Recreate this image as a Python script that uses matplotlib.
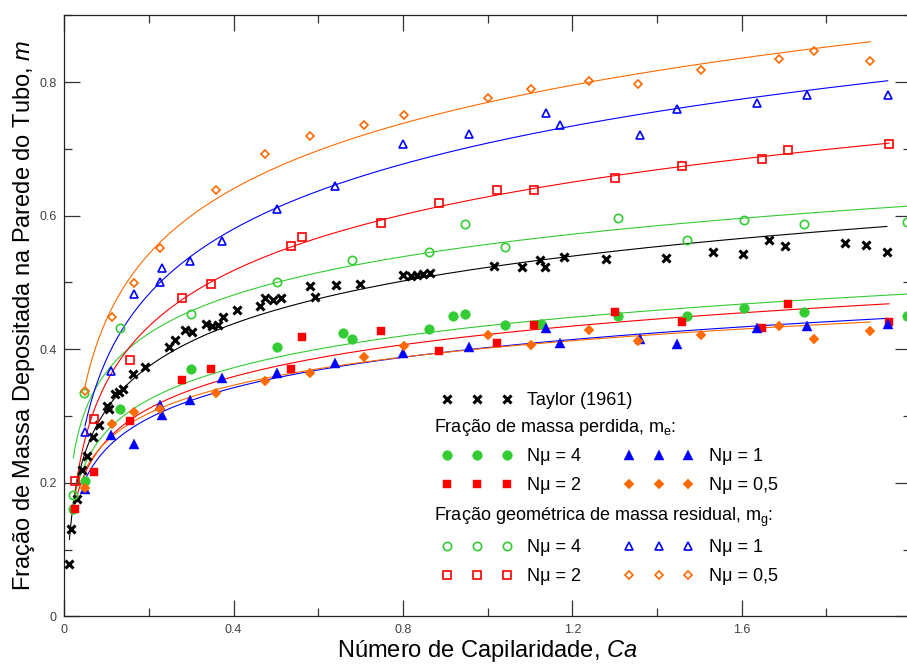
import numpy as np
import matplotlib
matplotlib.use('Agg')
import matplotlib.pyplot as plt
from matplotlib.ticker import MultipleLocator, FuncFormatter

plt.rcParams['font.family'] = ['Liberation Sans', 'DejaVu Sans']
plt.rcParams['mathtext.fontset'] = 'custom'
plt.rcParams['mathtext.rm'] = 'Liberation Sans'
plt.rcParams['mathtext.it'] = 'Liberation Sans:italic'

# Taylor (1961)
taylor_ca = [0.012, 0.015, 0.029, 0.041, 0.053, 0.067, 0.083, 0.100, 0.106, 0.120,
             0.130, 0.139, 0.162, 0.191, 0.247, 0.262, 0.285, 0.301, 0.335, 0.348,
             0.364, 0.376, 0.407, 0.462, 0.475, 0.494, 0.513, 0.580, 0.593, 0.642,
             0.699, 0.801, 0.819, 0.833, 0.847, 0.864, 1.014, 1.081, 1.124, 1.136,
             1.180, 1.280, 1.421, 1.532, 1.603, 1.664, 1.702, 1.844, 1.894, 1.943]
taylor_m = [0.079, 0.130, 0.176, 0.219, 0.240, 0.269, 0.286, 0.315, 0.311, 0.333,
            0.336, 0.341, 0.363, 0.373, 0.404, 0.414, 0.429, 0.425, 0.438, 0.435,
            0.436, 0.448, 0.458, 0.465, 0.477, 0.474, 0.476, 0.495, 0.478, 0.496,
            0.497, 0.511, 0.509, 0.511, 0.512, 0.514, 0.525, 0.523, 0.534, 0.523,
            0.538, 0.535, 0.537, 0.545, 0.542, 0.563, 0.555, 0.559, 0.556, 0.545]

# N_mu = 4
ca_n4_e = [0.021, 0.049, 0.132, 0.299, 0.502, 0.659, 0.680, 0.862, 0.917, 0.947,
           1.041, 1.125, 1.307, 1.471, 1.606, 1.748, 1.990]
me_n4 = [0.160, 0.202, 0.310, 0.370, 0.404, 0.424, 0.415, 0.430, 0.450, 0.452,
         0.436, 0.437, 0.450, 0.449, 0.461, 0.456, 0.450]
ca_n4_g = [0.021, 0.047, 0.132, 0.299, 0.503, 0.680, 0.862, 0.947, 1.041, 1.307,
           1.471, 1.606, 1.748, 1.990]
mg_n4 = [0.182, 0.335, 0.431, 0.453, 0.501, 0.533, 0.545, 0.587, 0.553, 0.596,
         0.564, 0.594, 0.587, 0.591]

# N_mu = 2
ca_n2 = [0.025, 0.070, 0.155, 0.278, 0.347, 0.536, 0.561, 0.748, 0.884, 1.022,
         1.110, 1.300, 1.459, 1.648, 1.709, 1.948]
me_n2 = [0.160, 0.216, 0.292, 0.354, 0.370, 0.370, 0.418, 0.427, 0.398, 0.410,
         0.436, 0.456, 0.440, 0.431, 0.467, 0.440]
mg_n2 = [0.202, 0.295, 0.384, 0.476, 0.498, 0.554, 0.568, 0.589, 0.619, 0.639,
         0.638, 0.657, 0.674, 0.685, 0.698, 0.708]

# N_mu = 1
ca_n1 = [0.049, 0.110, 0.164, 0.227, 0.231, 0.297, 0.372, 0.503, 0.640, 0.799,
         0.957, 1.137, 1.171, 1.359, 1.447, 1.637, 1.754, 1.945]
me_n1 = [0.190, 0.271, 0.258, 0.317, 0.302, 0.324, 0.357, 0.365, 0.380, 0.395,
         0.404, 0.431, 0.410, 0.415, 0.408, 0.431, 0.434, 0.437]
mg_n1 = [0.276, 0.368, 0.483, 0.500, 0.522, 0.532, 0.562, 0.610, 0.644, 0.707,
         0.722, 0.753, 0.736, 0.720, 0.760, 0.769, 0.781, 0.780]

# N_mu = 0,5
ca_n05 = [0.049, 0.112, 0.165, 0.225, 0.358, 0.474, 0.580, 0.709, 0.803, 1.001,
          1.103, 1.240, 1.355, 1.503, 1.689, 1.771, 1.904]
me_n05 = [0.192, 0.288, 0.306, 0.310, 0.334, 0.352, 0.364, 0.388, 0.405, 0.421,
          0.407, 0.428, 0.413, 0.421, 0.435, 0.415, 0.427]
mg_n05 = [0.338, 0.448, 0.499, 0.551, 0.639, 0.693, 0.719, 0.735, 0.751, 0.776,
          0.790, 0.802, 0.797, 0.818, 0.834, 0.847, 0.832]

GREEN = '#33CC33'
RED = '#FF0000'
BLUE = '#0000FF'
ORANGE = '#FF6A00'


def log_fit(x, y):
    # ajuste logaritmico m = a + b ln(Ca) no intervalo dos dados
    x = np.asarray(x, dtype=float)
    y = np.asarray(y, dtype=float)
    b, a = np.polyfit(np.log(x), y, 1)
    xs = np.linspace(x.min(), x.max(), 400)
    return xs, a + b * np.log(xs)


def draw_series(ax, x, y, color, marker, ms, filled):
    xs, ys = log_fit(x, y)
    ax.plot(xs, ys, color=color, lw=0.8, zorder=2)
    if filled:
        h, = ax.plot(x, y, ls='none', marker=marker, ms=ms, color=color,
                     mec=color, mew=0.3, zorder=3)
    else:
        h, = ax.plot(x, y, ls='none', marker=marker, ms=ms, mfc='none',
                     mec=color, mew=1.2, zorder=3)
    return h


fig = plt.figure(figsize=(9.07, 6.64), dpi=100)
ax = fig.add_axes([64.3 / 907, 47.7 / 664, 846.7 / 907, 601 / 664])

h_taylor = draw_series(ax, taylor_ca, taylor_m, 'black', 'x', 5.8, True)
h_taylor.set_markeredgewidth(2.2)

h_e4 = draw_series(ax, ca_n4_e, me_n4, GREEN, 'o', 7.0, True)
h_e2 = draw_series(ax, ca_n2, me_n2, RED, 's', 6.4, True)
h_e1 = draw_series(ax, ca_n1, me_n1, BLUE, '^', 6.8, True)
h_e05 = draw_series(ax, ca_n05, me_n05, ORANGE, 'D', 4.6, True)

h_g4 = draw_series(ax, ca_n4_g, mg_n4, GREEN, 'o', 6.0, False)
h_g2 = draw_series(ax, ca_n2, mg_n2, RED, 's', 5.5, False)
h_g1 = draw_series(ax, ca_n1, mg_n1, BLUE, '^', 5.8, False)
h_g05 = draw_series(ax, ca_n05, mg_n05, ORANGE, 'D', 3.9, False)

ax.set_xlim(0, 2.0)
ax.set_ylim(0, 0.9)
ax.xaxis.set_major_locator(MultipleLocator(0.4))
ax.xaxis.set_minor_locator(MultipleLocator(0.2))
ax.yaxis.set_major_locator(MultipleLocator(0.2))
ax.yaxis.set_minor_locator(MultipleLocator(0.1))
ax.xaxis.set_major_formatter(FuncFormatter(lambda v, pos: '%g' % round(v, 3) if v < 1.9 else ''))
ax.yaxis.set_major_formatter(FuncFormatter(lambda v, pos: '%g' % round(v, 3)))
ax.tick_params(which='both', direction='in', top=True, right=True,
               labelsize=9, labelcolor='#404040', pad=5.5, color='#333333', width=0.9)
ax.tick_params(which='major', length=11.5)
ax.tick_params(which='minor', length=5.8)
for s in ax.spines.values():
    s.set_linewidth(0.9)
    s.set_color('#222222')

ax.set_xlabel(r'Número de Capilaridade, $\mathit{Ca}$', fontsize=17)
ax.set_ylabel(r'Fração de Massa Depositada na Parede do Tubo, $\mathit{m}$', fontsize=17)
ax.xaxis.set_label_coords(0.5, -0.036)
ax.yaxis.set_label_coords(-0.032, 0.5)

# legendas
leg_kw = dict(loc='upper left', numpoints=3, handlelength=3.88, handletextpad=0.83,
              frameon=False, borderpad=0, borderaxespad=0, fontsize=13,
              labelspacing=0.67, columnspacing=2.36)
leg1 = ax.legend([h_taylor], ['Taylor (1961)'], bbox_to_anchor=(0.446, 0.373), **leg_kw)
ax.add_artist(leg1)
leg2 = ax.legend([h_e4, h_e2, h_e1, h_e05], ['Nμ = 4', 'Nμ = 2', 'Nμ = 1', 'Nμ = 0,5'],
                 ncol=2, bbox_to_anchor=(0.446, 0.280), **leg_kw)
ax.add_artist(leg2)
ax.legend([h_g4, h_g2, h_g1, h_g05], ['Nμ = 4', 'Nμ = 2', 'Nμ = 1', 'Nμ = 0,5'],
          ncol=2, bbox_to_anchor=(0.446, 0.128), **leg_kw)

ax.text(0.4366, 0.306, r'Fração de massa perdida, $\mathregular{m_e}$:',
        transform=ax.transAxes, fontsize=13, va='baseline')
ax.text(0.4366, 0.159, r'Fração geométrica de massa residual, $\mathregular{m_g}$:',
        transform=ax.transAxes, fontsize=13, va='baseline')

fig.savefig('out.png', dpi=100)
